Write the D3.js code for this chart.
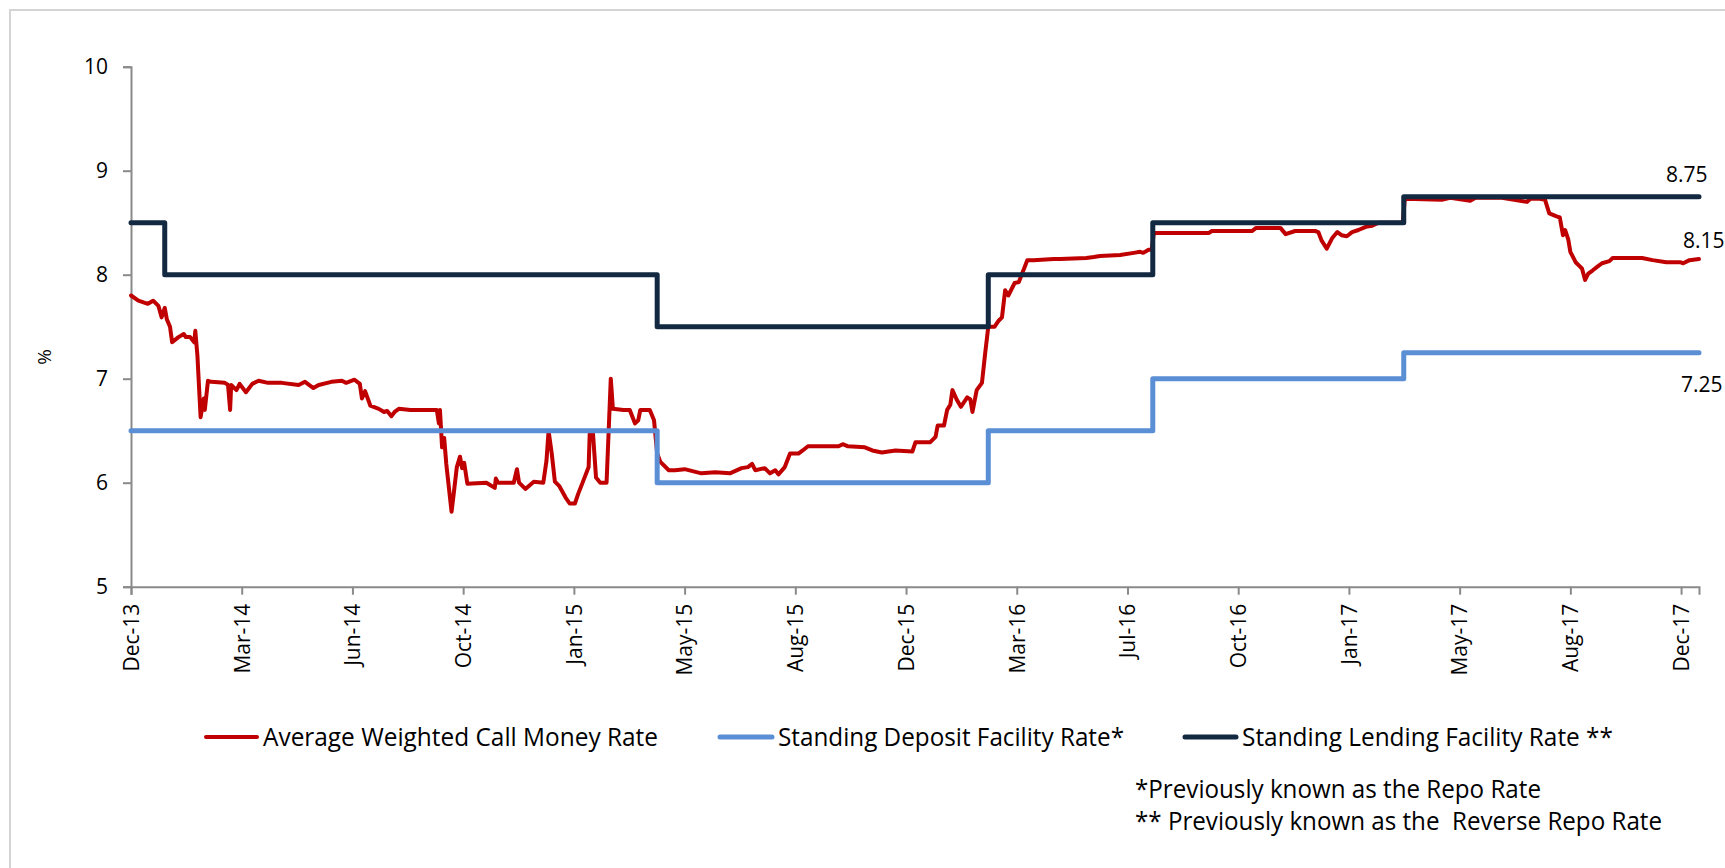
<!DOCTYPE html>
<html><head><meta charset="utf-8">
<script src="https://cdn.jsdelivr.net/npm/d3@7"></script>
<style>
html,body{margin:0;padding:0;background:#fff;}
svg{display:block;font-family:"Open Sans",sans-serif;}
</style>
</head><body>
<svg id="chart" width="1725" height="868"></svg>
<script>
// ---------------- DATA ----------------
const callMoneyDates = [
"2013-12-02","2013-12-09","2013-12-18","2013-12-23","2013-12-28","2013-12-31","2014-01-03","2014-01-05","2014-01-08","2014-01-10",
"2014-01-16","2014-01-21","2014-01-23","2014-01-27","2014-01-31","2014-02-01","2014-02-03","2014-02-06","2014-02-09","2014-02-10",
"2014-02-13","2014-02-16","2014-03-01","2014-03-04","2014-03-06","2014-03-07","2014-03-12","2014-03-15","2014-03-21","2014-03-27",
"2014-04-02","2014-04-11","2014-04-24","2014-05-10","2014-05-16","2014-05-24","2014-05-29","2014-06-10","2014-06-20","2014-06-24",
"2014-07-02","2014-07-07","2014-07-09","2014-07-12","2014-07-17","2014-07-25","2014-07-30","2014-08-02","2014-08-06","2014-08-09",
"2014-08-13","2014-08-24","2014-09-18","2014-09-20","2014-09-21","2014-09-23","2014-09-25","2014-09-27","2014-10-02","2014-10-04",
"2014-10-07","2014-10-10","2014-10-12","2014-10-14","2014-10-17","2014-11-04","2014-11-12","2014-11-13","2014-11-15","2014-11-30",
"2014-12-03","2014-12-05","2014-12-11","2014-12-19","2014-12-28","2014-12-31","2015-01-02","2015-01-05","2015-01-08","2015-01-12",
"2015-01-18","2015-01-22","2015-01-27","2015-01-30","2015-02-04","2015-02-09","2015-02-10","2015-02-13","2015-02-16","2015-02-20",
"2015-02-26","2015-02-28","2015-03-02","2015-03-04","2015-03-14","2015-03-20","2015-03-25","2015-03-28","2015-03-30","2015-04-08",
"2015-04-12","2015-04-15","2015-04-18","2015-04-26","2015-05-02","2015-05-11","2015-05-27","2015-06-09","2015-06-23","2015-07-04",
"2015-07-10","2015-07-14","2015-07-17","2015-07-26","2015-07-31","2015-08-05","2015-08-08","2015-08-14","2015-08-19","2015-08-27",
"2015-08-31","2015-09-05","2015-09-18","2015-10-04","2015-10-08","2015-10-13","2015-10-29","2015-11-05","2015-11-14","2015-11-27",
"2015-12-13","2015-12-16","2015-12-26","2015-12-30","2016-01-04","2016-01-06","2016-01-12","2016-01-15","2016-01-18","2016-01-20",
"2016-01-24","2016-01-28","2016-02-03","2016-02-06","2016-02-08","2016-02-12","2016-02-17","2016-02-20","2016-02-23","2016-02-29",
"2016-03-04","2016-03-07","2016-03-10","2016-03-13","2016-03-16","2016-03-19","2016-03-23","2016-03-26","2016-03-28","2016-03-31",
"2016-04-06","2016-04-25","2016-05-01","2016-05-26","2016-06-02","2016-06-08","2016-06-27","2016-07-10","2016-07-16","2016-07-19",
"2016-07-24","2016-07-27","2016-07-29","2016-09-01","2016-09-19","2016-09-22","2016-10-30","2016-11-03","2016-11-26","2016-12-01",
"2016-12-10","2016-12-29","2017-01-01","2017-01-04","2017-01-09","2017-01-14","2017-01-19","2017-01-23","2017-01-28","2017-02-02",
"2017-02-08","2017-02-15","2017-02-21","2017-02-27","2017-03-15","2017-03-22","2017-03-24","2017-04-28","2017-05-06","2017-05-25",
"2017-05-30","2017-06-24","2017-07-18","2017-07-21","2017-07-30","2017-08-04","2017-08-08","2017-08-15","2017-08-18","2017-08-21",
"2017-08-23","2017-08-26","2017-08-28","2017-09-02","2017-09-05","2017-09-08","2017-09-11","2017-09-14","2017-09-18","2017-09-23",
"2017-09-27","2017-10-04","2017-10-07","2017-10-23","2017-11-04","2017-11-14","2017-11-27","2017-12-10","2017-12-13","2017-12-19",
"2017-12-28"
];
const callMoneyRates = [
7.80,7.75,7.72,7.75,7.70,7.59,7.68,7.57,7.50,7.35,
7.40,7.43,7.40,7.40,7.35,7.46,7.22,6.63,6.81,6.70,
6.98,6.97,6.96,6.94,6.70,6.94,6.89,6.95,6.87,6.95,
6.98,6.96,6.96,6.94,6.97,6.91,6.94,6.97,6.98,6.96,
6.99,6.95,6.81,6.88,6.74,6.71,6.68,6.69,6.64,6.68,
6.71,6.70,6.70,6.57,6.70,6.34,6.43,6.18,5.72,5.89,
6.15,6.25,6.14,6.19,5.99,6.00,5.95,6.04,6.00,6.00,
6.13,6.00,5.94,6.01,6.00,6.21,6.50,6.28,6.01,5.97,
5.86,5.80,5.80,5.89,6.02,6.15,6.47,6.49,6.05,6.00,
6.00,6.50,7.00,6.71,6.70,6.70,6.57,6.60,6.70,6.70,
6.60,6.28,6.20,6.12,6.12,6.13,6.09,6.10,6.09,6.14,
6.15,6.18,6.12,6.14,6.09,6.12,6.08,6.15,6.28,6.28,
6.31,6.35,6.35,6.35,6.37,6.35,6.34,6.31,6.29,6.31,
6.30,6.39,6.39,6.39,6.44,6.55,6.55,6.70,6.75,6.89,
6.80,6.73,6.82,6.80,6.68,6.89,6.96,7.24,7.50,7.50,
7.56,7.59,7.85,7.80,7.86,7.92,7.93,8.01,8.06,8.14,
8.14,8.15,8.15,8.16,8.17,8.18,8.19,8.21,8.22,8.21,
8.24,8.24,8.40,8.40,8.40,8.42,8.42,8.45,8.45,8.39,
8.42,8.42,8.41,8.33,8.25,8.35,8.41,8.38,8.37,8.41,
8.43,8.46,8.47,8.50,8.50,8.50,8.73,8.72,8.74,8.71,
8.74,8.74,8.70,8.73,8.73,8.72,8.59,8.56,8.55,8.38,
8.43,8.34,8.22,8.12,8.09,8.06,7.95,8.01,8.04,8.08,
8.11,8.13,8.16,8.16,8.16,8.14,8.12,8.12,8.11,8.14,
8.15
];
const sdfrDates = ["2013-12-02","2015-04-15","2016-02-23","2016-07-28","2017-03-23","2017-12-28"];
const sdfrRates = [6.50, 6.00, 6.50, 7.00, 7.25, 7.25];
const slfrDates = ["2013-12-02","2014-01-03","2015-04-15","2016-02-23","2016-07-28","2017-03-23","2017-12-28"];
const slfrRates = [8.50, 8.00, 7.50, 8.00, 8.50, 8.75, 8.75];

const xTickDates  = ["2013-12-02","2014-03-17","2014-06-30","2014-10-13","2015-01-26","2015-05-11","2015-08-24","2015-12-07","2016-03-21","2016-07-04","2016-10-17","2017-01-30","2017-05-15","2017-08-28","2017-12-11"];
const xTickLabels = ["Dec-13","Mar-14","Jun-14","Oct-14","Jan-15","May-15","Aug-15","Dec-15","Mar-16","Jul-16","Oct-16","Jan-17","May-17","Aug-17","Dec-17"];
const yTicks = [5, 6, 7, 8, 9, 10];

const seriesNames = ["Average Weighted Call Money Rate", "Standing Deposit Facility Rate*", "Standing Lending Facility Rate **"];
const footnotes = ["*Previously known as the Repo Rate", "** Previously known as the  Reverse Repo Rate"];
const endLabels = ["8.75", "8.15", "7.25"];

// ---------------- STYLE ----------------
const C_RED = "#C00000", C_BLUE = "#5B8FD5", C_NAVY = "#132942", C_AXIS = "#8A8A8A";
const parse = d3.timeParse("%Y-%m-%d");

const svg = d3.select("#chart");

// outer border
svg.append("rect").attr("x", 10).attr("y", 10).attr("width", 1740).attr("height", 880)
  .attr("fill", "none").attr("stroke", "#D4D4D4").attr("stroke-width", 2);

const x = d3.scaleTime().domain([parse("2013-12-02"), parse("2017-12-28")]).range([131, 1699]);
const y = d3.scaleLinear().domain([5, 10]).range([586.7, 66.7]);

// axes
const yAxis = d3.axisLeft(y).tickValues(yTicks).tickSize(8).tickFormat(d3.format("d"));
const gy = svg.append("g").attr("transform", "translate(131,0)").call(yAxis);
gy.select(".domain").attr("stroke", C_AXIS).attr("stroke-width", 2);
gy.selectAll(".tick line").attr("stroke", C_AXIS).attr("stroke-width", 2);
gy.selectAll(".tick text").attr("x", -23).attr("dy", "0.34em")
  .attr("font-size", 21).attr("fill", "#000").attr("font-family", "Open Sans");

const xAxis = d3.axisBottom(x).tickValues(xTickDates.map(parse)).tickSize(8)
  .tickFormat((d, i) => xTickLabels[i]);
const gx = svg.append("g").attr("transform", "translate(0,586.7)").call(xAxis);
gx.select(".domain").attr("stroke", C_AXIS).attr("stroke-width", 2);
gx.selectAll(".tick line").attr("stroke", C_AXIS).attr("stroke-width", 2);
gx.selectAll(".tick text").attr("font-size", 21).attr("fill", "#000").attr("font-family", "Open Sans")
  .attr("text-anchor", "end").attr("y", 0).attr("dy", "0.35em")
  .attr("transform", "translate(0,17) rotate(-90)");

// y axis title
svg.append("text").attr("transform", "translate(44,357) rotate(-90)")
  .attr("text-anchor", "middle").attr("dy", "0.35em").attr("font-size", 19).text("%");

// series
const line = d3.line().x(d => x(d[0])).y(d => y(d[1]));
const stepLine = d3.line().x(d => x(d[0])).y(d => y(d[1])).curve(d3.curveStepAfter);

const cm = callMoneyDates.map((d, i) => [parse(d), callMoneyRates[i]]);
const sd = sdfrDates.map((d, i) => [parse(d), sdfrRates[i]]);
const sl = slfrDates.map((d, i) => [parse(d), slfrRates[i]]);

svg.append("path").datum(cm).attr("d", line).attr("fill", "none")
  .attr("stroke", C_RED).attr("stroke-width", 4).attr("stroke-linejoin", "round").attr("stroke-linecap", "round");
svg.append("path").datum(sd).attr("d", stepLine).attr("fill", "none")
  .attr("stroke", C_BLUE).attr("stroke-width", 5).attr("stroke-linejoin", "round").attr("stroke-linecap", "round");
svg.append("path").datum(sl).attr("d", stepLine).attr("fill", "none")
  .attr("stroke", C_NAVY).attr("stroke-width", 5).attr("stroke-linejoin", "round").attr("stroke-linecap", "round");

// end labels
const lastSl = sl[sl.length - 1], lastCm = cm[cm.length - 1], lastSd = sd[sd.length - 1];
const endPos = [
  [x(lastSl[0]) - 33, y(lastSl[1]) - 15],
  [x(lastCm[0]) - 16, y(lastCm[1]) - 11],
  [x(lastSd[0]) - 18, y(lastSd[1]) + 39]
];
endLabels.forEach((t, i) => {
  svg.append("text").attr("x", endPos[i][0]).attr("y", endPos[i][1])
    .attr("font-size", 21).attr("fill", "#000").text(t);
});

// legend
const legColors = [C_RED, C_BLUE, C_NAVY];
const legSample = [[206, 257], [720, 772], [1185, 1236]];
const legWidths = [395, 346, 371];
const legY = 737;
seriesNames.forEach((name, i) => {
  svg.append("line").attr("x1", legSample[i][0]).attr("x2", legSample[i][1])
    .attr("y1", legY).attr("y2", legY).attr("stroke", legColors[i])
    .attr("stroke-width", i === 0 ? 4 : 5).attr("stroke-linecap", "round");
  svg.append("text").attr("x", legSample[i][1] + 6).attr("y", legY).attr("dy", "0.35em")
    .attr("font-size", 25).attr("fill", "#000")
    .attr("textLength", legWidths[i]).attr("lengthAdjust", "spacingAndGlyphs").text(name);
});

// footnotes
const fnY = [789, 821], fnW = [406, 527];
footnotes.forEach((t, i) => {
  svg.append("text").attr("x", 1135).attr("y", fnY[i]).attr("dy", "0.35em")
    .attr("font-size", 25).attr("fill", "#000").attr("xml:space", "preserve")
    .style("white-space", "pre")
    .attr("textLength", fnW[i]).attr("lengthAdjust", "spacingAndGlyphs").text(t);
});
</script>
</body></html>
